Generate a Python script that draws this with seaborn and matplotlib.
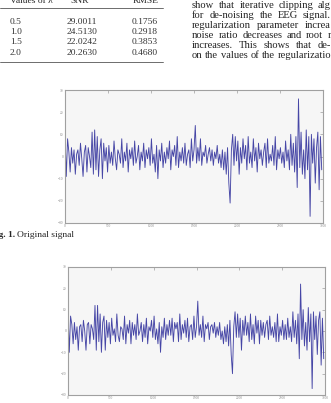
import pandas as pd
import matplotlib
matplotlib.use("Agg")
import matplotlib.pyplot as plt
import seaborn as sns
import numpy as np

# Table values (regularization parameter vs SNR / RMSE)
lambdas = ['0.5', '1.0', '1.5', '2.0']
snr = ['29.0011', '24.5130', '22.0242', '20.2630']
rmse = ['0.1756', '0.2918', '0.3853', '0.4680']
headers = ['Values of \u03bb', 'SNR', 'RMSE']

# visible part of the justified text column (cut by the page edge)
text_lines = [
    "show that iterative clipping alg",
    "for de-noising the EEG signal.",
    "regularization parameter increa",
    "noise ratio decreases and root r",
    "increases. This shows that de-",
    "on the values of the regularizatio",
]

# Signal samples, one every 15 samples
step = 15
original = [
    10, -9, 8, 2, -7, 4, -3, 3, -8, 1, 3, -4, 6, -1, -9, 2, 5, -7, 4, 0,
    -5, 11, -8, 12, -6, 9, -9, 3, 8, -10, 6, -2, 4, -7, 5, -3, 2, -4, 7, -1,
    -6, 3, 1, -3, 8, -5, 2, -2, 6, -7, 3, -1, 4, -4, 7, -3, 0, 5, -6, 2,
    -2, 6, -5, 3, -1, 4, -4, 8, -3, 1, -7, 5, -10, 3, -2, 6, -5, 2, -3, 4,
    -1, 7, -6, 3, 0, 5, -4, 9, -5, 2, -2, 4, -3, 6, -4, 1, 3, -5, 8, -2,
    3, 14, -3, 4, -2, 8, -4, 2, 0, 5, -3, 1, 4, -2, 3, -4, 2, -1, 5, -3,
    1, -5, 3, -6, 2, -8, 4, -12, -21, 3, 10, -4, 9, -2, 7, -8, 4, -3, 8, -1,
    5, -6, 9, -3, 2, -5, 8, -2, 4, -7, 6, -1, 3, -4, 2, 6, -5, 8, -3, 1,
    -2, 5, -4, 9, -6, 3, -1, 4, -3, 2, -5, 7, -2, 3, -6, 10, -4, 6, -7, 9,
    -14, 26, -5, 11, -8, 3, -10, 12, -6, 9, -27, 10, -3, 8, -12, 4, 11, -15, 9, -6,
]
second = [
    10, -10, 7, 3, -6, 4, -4, 2, -9, 2, 3, -5, 5, 0, -9, 3, 4, -6, 3, 1,
    -4, 12, -9, 12, -5, 8, -10, 4, 7, -9, 5, -3, 4, -6, 6, -2, 1, -5, 8, -2,
    -5, 2, 1, -4, 7, -6, 3, -1, 5, -6, 4, -2, 3, -4, 8, -2, 0, 4, -5, 3,
    -3, 6, -6, 2, 0, 5, -3, 7, -4, 1, -6, 4, -10, 2, -3, 6, -4, 3, -2, 5,
    -2, 6, -5, 4, 1, 4, -5, 8, -4, 3, -1, 5, -3, 6, -5, 2, 3, -4, 7, -3,
    2, 14, -2, 3, -3, 7, -5, 3, 1, 4, -4, 2, 3, -1, 4, -3, 2, -2, 4, -4,
    0, -6, 2, -5, 3, -7, 5, -11, -20, 2, 9, -3, 8, -3, 6, -9, 5, -2, 7, -2,
    4, -5, 8, -4, 3, -6, 7, -1, 5, -6, 5, -2, 4, -3, 3, 5, -4, 7, -2, 2,
    -3, 4, -5, 8, -5, 2, -2, 5, -4, 3, -4, 6, -3, 2, -5, 9, -3, 5, -6, 8,
    -13, 22, -4, 10, -7, 4, -9, 11, -5, 8, -27, 9, -4, 7, -11, 5, 9, -16, 6, -13,
]

xticks = [0, 500, 1000, 1500, 2000, 2500, 3000]
yticks = [-30, -20, -10, 0, 10, 20, 30]

sns.set_style("white")
plt.rcParams['font.family'] = ['Liberation Serif', 'DejaVu Serif']

W, H = 331, 403
fig = plt.figure(figsize=(W / 100, H / 100), dpi=100)
renderer = fig.canvas.get_renderer()

def px(x, y):
    return x / W, 1 - y / H

fs = 6.8
# table
for label, x in zip(headers, [10, 70, 133]):
    fig.text(*px(x, 3), label, fontsize=fs, va='baseline')
for y in [8, 62]:
    fig.add_artist(plt.Line2D([0, 163 / W], [1 - y / H] * 2, color='#555555', lw=0.6))
for i, (a, b, c) in enumerate(zip(lambdas, snr, rmse)):
    y = 22 + i * 10.2
    fig.text(*px(10, y), a, fontsize=fs, va='center', color='#333333')
    fig.text(*px(67, y), b, fontsize=fs, va='center', color='#333333')
    fig.text(*px(132, y), c, fontsize=fs, va='center', color='#333333')

# right column text, justified so each line runs to the page edge
fs_col = 7.6
for i, line in enumerate(text_lines):
    words = line.split(' ')
    y = 5.5 + i * 10
    arts = [fig.text(*px(0, y), w, fontsize=fs_col, va='center', color='#222222') for w in words]
    widths = [a.get_window_extent(renderer).width for a in arts]
    gap = max((331 - 192 - sum(widths)) / max(len(words) - 1, 1), 2.0)
    x = 192
    for a, w in zip(arts, widths):
        a.set_position(px(x, y))
        x += w + gap

# caption
fig.text(*px(15, 235), "Fig. 1.", fontsize=fs, fontweight='bold', ha='right', va='center')
fig.text(*px(17, 235), "Original signal", fontsize=fs, ha='left', va='center')

def signal_axes(rect, values):
    ax = fig.add_axes(rect)
    df = pd.DataFrame({'sample': np.arange(len(values)) * step, 'amp': values})
    sns.lineplot(data=df, x='sample', y='amp', ax=ax, color='#4646a6', lw=0.65)
    ax.set_facecolor('#f6f6f6')
    ax.set_xlim(0, 3000)
    ax.set_ylim(-30, 30)
    ax.set_xticks(xticks)
    ax.set_yticks(yticks)
    ax.tick_params(direction='in', length=2, width=0.4, labelsize=2.5,
                   labelcolor='#888888', color='#888888', pad=1,
                   top=True, right=True)
    ax.set_xlabel('')
    ax.set_ylabel('')
    for s in ax.spines.values():
        s.set_color('#a0a0a0')
        s.set_linewidth(0.8)
    return ax

signal_axes([65 / W, 1 - 223 / H, 258 / W, 133 / H], original)
signal_axes([68 / W, 1 - 395 / H, 257 / W, 128 / H], second)

fig.savefig('out.png', dpi=100)
